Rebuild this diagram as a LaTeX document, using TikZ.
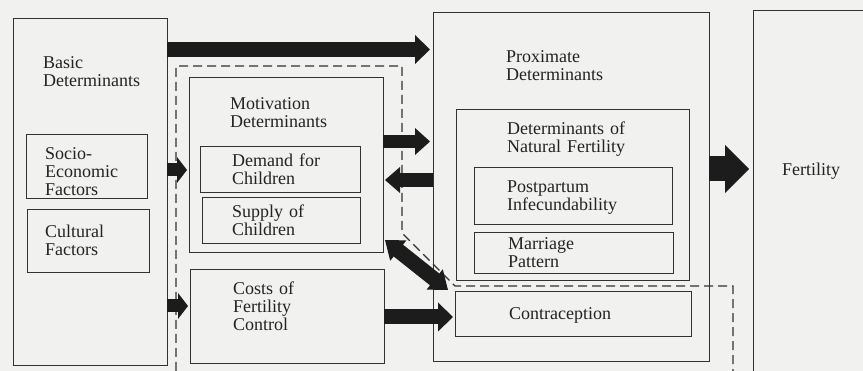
\documentclass[tikz,border=0pt]{standalone}
\usepackage{fontspec}
\setmainfont{Liberation Serif}
\usetikzlibrary{arrows.meta,calc}
\definecolor{paper}{RGB}{241,241,239}
\definecolor{ink}{RGB}{50,50,50}
\definecolor{txt}{RGB}{35,35,35}
\definecolor{blk}{RGB}{28,28,28}
\begin{document}
\begin{tikzpicture}[x=1pt,y=-1pt,
  box/.style={draw=ink, line width=1pt, inner sep=0pt, outer sep=0pt, anchor=north west},
  hidebox/.style={inner sep=0pt, outer sep=0pt, anchor=north west},
  lbl/.style={anchor=base west, inner sep=0pt, align=left, text width=200pt, text=txt,
    font=\fontsize{18}{18}\selectfont},
  fat/.style={draw=blk, line width=#1},
  dashline/.style={draw=ink, line width=1.2pt, dash pattern=on 9pt off 5pt},
  tipA/.style={-{Triangle[width=#1,length=15pt,line width=0pt]}}]
\fill[paper] (0,0) rectangle (863,371);
\useasboundingbox (0,0) rectangle (863,371);

% boxes
\node[box, minimum width=154pt, minimum height=347pt] (basic) at (13,19) {};
\node[box, minimum width=121pt, minimum height=64pt] (socio) at (26,135) {};
\node[box, minimum width=122pt, minimum height=63pt] (cult) at (27,210) {};
\node[box, minimum width=194pt, minimum height=175pt] (motiv) at (189,78) {};
\node[box, minimum width=160pt, minimum height=46pt] (demand) at (200,147) {};
\node[box, minimum width=158pt, minimum height=46pt] (supply) at (202,198) {};
\node[box, minimum width=194pt, minimum height=94pt] (costs) at (190,270) {};
\node[box, minimum width=276pt, minimum height=349pt] (prox) at (433,13) {};
\node[box, minimum width=233pt, minimum height=171pt] (natural) at (456,110) {};
\node[box, minimum width=198pt, minimum height=57pt] (post) at (474,168) {};
\node[box, minimum width=199pt, minimum height=41pt] (marr) at (474,233) {};
\node[box, minimum width=236pt, minimum height=45pt] (contra) at (455,292) {};
\node[hidebox, minimum width=115pt, minimum height=365pt] (fert) at (753,11) {};
\draw[ink, line width=1pt] (fert.north east) -- (fert.north west) -- (fert.south west);

% labels
\node[lbl] (tBasic) at (43,69) {Basic\\Determinants};
\node[lbl] (tSocio) at (45,160) {Socio-\\Economic\\Factors};
\node[lbl] (tCult) at (45,238) {Cultural\\Factors};
\node[lbl] (tMot) at (230,110) {Motivation\\Determinants};
\node[lbl] (tDem) at (232,167) {Demand for\\Children};
\node[lbl] (tSup) at (232,218) {Supply of\\Children};
\node[lbl] (tCost) at (233,295) {Costs of\\Fertility\\Control};
\node[lbl] (tProx) at (506,63) {Proximate\\Determinants};
\node[lbl] (tNat) at (507,135) {Determinants of\\Natural Fertility};
\node[lbl] (tPost) at (507,193) {Postpartum\\Infecundability};
\node[lbl] (tMar) at (508,250) {Marriage\\Pattern};
\node[lbl] (tCon) at (509,320) {Contraception};
\node[lbl] (tFer) at (782,176) {Fertility};

% dashed outline
\coordinate (d1) at (176,371);
\coordinate (d2) at (176,66);
\coordinate (d3) at (402,66);
\coordinate (d4) at (402,233);
\coordinate (d5) at (455,286);
\coordinate (d6) at (733,286);
\coordinate (d7) at (733,371);
\draw[dashline] (d1) -- (d2) -- (d3) -- (d4) -- (d5) -- (d6) -- (d7);

% block arrows
\draw[fat=15pt, tipA=29pt, shorten >=3pt] (basic.east |- 0,49.5) -- (prox.west |- 0,49.5);
\draw[fat=13pt, -{Triangle[width=26pt,length=10pt,line width=0pt]}, shorten >=2pt]
  (basic.east |- 0,170) -- (motiv.west |- 0,170);
\draw[fat=13pt, -{Triangle[width=26pt,length=10pt,line width=0pt]}, shorten >=2pt]
  (basic.east |- 0,306) -- (costs.west |- 0,306);
\draw[fat=13pt, tipA=27pt, shorten >=3pt] (motiv.east |- 0,141.5) -- (prox.west |- 0,141.5);
\draw[fat=14pt, tipA=26pt, shorten >=2pt] (prox.west |- 0,180) -- (motiv.east |- 0,180);
\draw[fat=15pt, tipA=29pt, shorten >=2pt] (costs.east |- 0,317) -- (contra.west |- 0,317);
\draw[fat=25pt, -{Triangle[width=48pt,length=24pt,line width=0pt]}, shorten >=4pt]
  (prox.east |- 0,169) -- (fert.west |- 0,169);

% double-headed diagonal block arrow (motivation <-> contraception)
\coordinate (dA) at ([xshift=2pt]motiv.east |- 0,240);
\coordinate (dB) at ([xshift=-7pt,yshift=2pt]contra.north west);
\fill[blk] (dA)
  -- ($(dA)!17pt!(dB)!13pt!90:(dB)$)
  -- ($(dA)!17pt!(dB)!7.5pt!90:(dB)$)
  -- ($(dB)!17pt!(dA)!7.5pt!-90:(dA)$)
  -- ($(dB)!17pt!(dA)!13pt!-90:(dA)$)
  -- (dB)
  -- ($(dB)!17pt!(dA)!13pt!90:(dA)$)
  -- ($(dB)!17pt!(dA)!7.5pt!90:(dA)$)
  -- ($(dA)!17pt!(dB)!7.5pt!-90:(dB)$)
  -- ($(dA)!17pt!(dB)!13pt!-90:(dB)$)
  -- cycle;
\end{tikzpicture}
\end{document}
